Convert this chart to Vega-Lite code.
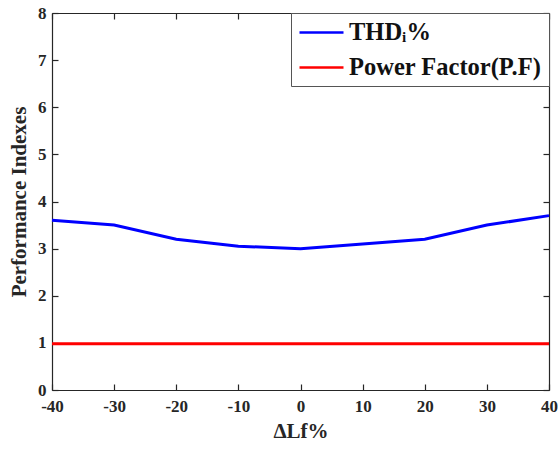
{
  "$schema": "https://vega.github.io/schema/vega-lite/v6.json",
  "width": 497,
  "height": 377,
  "autosize": "none",
  "padding": {"left": 52, "top": 13, "right": 10, "bottom": 63},
  "background": "white",
  "config": {
    "view": {"stroke": null},
    "font": "Liberation Serif",
    "axis": {
      "grid": false,
      "domainColor": "#262626",
      "domainWidth": 1.2,
      "tickColor": "#262626",
      "tickWidth": 1.2,
      "tickSize": -6,
      "labelFont": "Liberation Serif",
      "labelFontWeight": "bold",
      "labelFontSize": 17,
      "labelColor": "#262626",
      "titleFont": "Liberation Serif",
      "titleFontWeight": "bold",
      "titleFontSize": 21,
      "titleColor": "#262626"
    }
  },
  "data": {
    "values": [
      {"x": -40, "v": 3.6, "s": "THDᵢ%"},
      {"x": -30, "v": 3.5, "s": "THDᵢ%"},
      {"x": -20, "v": 3.2, "s": "THDᵢ%"},
      {"x": -10, "v": 3.05, "s": "THDᵢ%"},
      {"x": 0, "v": 3.0, "s": "THDᵢ%"},
      {"x": 10, "v": 3.1, "s": "THDᵢ%"},
      {"x": 20, "v": 3.2, "s": "THDᵢ%"},
      {"x": 30, "v": 3.5, "s": "THDᵢ%"},
      {"x": 40, "v": 3.7, "s": "THDᵢ%"},
      {"x": -40, "v": 0.98, "s": "Power Factor(P.F)"},
      {"x": -30, "v": 0.98, "s": "Power Factor(P.F)"},
      {"x": -20, "v": 0.98, "s": "Power Factor(P.F)"},
      {"x": -10, "v": 0.98, "s": "Power Factor(P.F)"},
      {"x": 0, "v": 0.98, "s": "Power Factor(P.F)"},
      {"x": 10, "v": 0.98, "s": "Power Factor(P.F)"},
      {"x": 20, "v": 0.98, "s": "Power Factor(P.F)"},
      {"x": 30, "v": 0.98, "s": "Power Factor(P.F)"},
      {"x": 40, "v": 0.98, "s": "Power Factor(P.F)"}
    ]
  },
  "layer": [
    {
      "mark": {"type": "line", "strokeWidth": 3},
      "encoding": {
        "x": {
          "field": "x", "type": "quantitative",
          "scale": {"domain": [-40, 40], "nice": false},
          "axis": {"values": [-40, -30, -20, -10, 0, 10, 20, 30, 40], "title": "ΔLf%", "labelExpr": "replace(datum.label, '−', '-')", "labelPadding": 14, "titlePadding": 6, "labelFlush": false}
        },
        "y": {
          "field": "v", "type": "quantitative",
          "scale": {"domain": [0, 8], "nice": false},
          "axis": {"values": [0, 1, 2, 3, 4, 5, 6, 7, 8], "title": "Performance Indexes", "labelPadding": 12, "titlePadding": 8, "labelFlush": false}
        },
        "color": {
          "field": "s", "type": "nominal",
          "scale": {"domain": ["THDᵢ%", "Power Factor(P.F)"], "range": ["#0000FF", "#FF0000"]},
          "legend": {
            "title": null,
            "orient": "top-right",
            "offset": 0,
            "symbolType": "M-1,0H3",
            "symbolSize": 484,
            "symbolStrokeWidth": 2.5,
            "labelFont": "Liberation Serif",
            "labelFontWeight": "bold",
            "labelFontSize": 24.5,
            "labelColor": "#111",
            "labelOffset": 26,
            "rowPadding": 10,
            "padding": 7,
            "strokeColor": "#555",
            "fillColor": "white",
            "labelLimit": 400
          }
        }
      }
    },
    {
      "mark": {"type": "line", "opacity": 0},
      "encoding": {
        "x": {"field": "x", "type": "quantitative", "axis": {"orient": "top", "values": [-40, -30, -20, -10, 0, 10, 20, 30, 40], "labels": false, "title": null}},
        "y": {"field": "v", "type": "quantitative", "axis": {"orient": "right", "values": [0, 1, 2, 3, 4, 5, 6, 7, 8], "labels": false, "title": null}}
      }
    }
  ],
  "resolve": {"axis": {"x": "independent", "y": "independent"}}
}
